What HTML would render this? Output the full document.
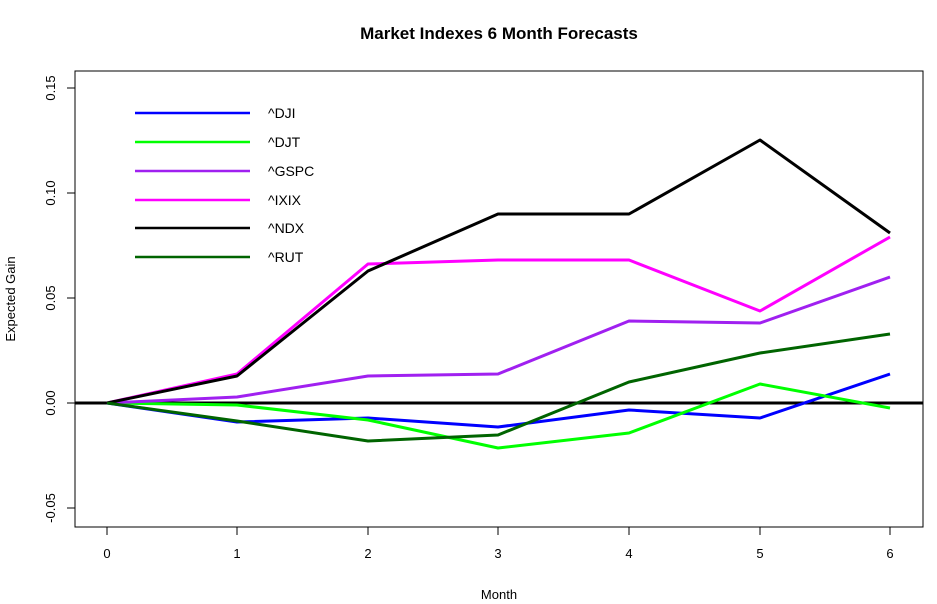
<!DOCTYPE html>
<html><head><style>body{margin:0;background:#fff}svg{display:block}text{font-family:"Liberation Sans",Arial,sans-serif}</style></head>
<body>
<svg width="937" height="604" xmlns="http://www.w3.org/2000/svg">
<rect width="937" height="604" fill="#fff"/>
<text x="499" y="39" font-size="17" font-weight="bold" text-anchor="middle">Market Indexes 6 Month Forecasts</text>
<rect x="75" y="71" width="848" height="456" fill="none" stroke="#000" stroke-width="1"/>
<g stroke="#000" stroke-width="1">
<line x1="107" y1="527" x2="890" y2="527"/>
<line x1="107" y1="527" x2="107" y2="535"/><line x1="237" y1="527" x2="237" y2="535"/><line x1="368" y1="527" x2="368" y2="535"/><line x1="498" y1="527" x2="498" y2="535"/><line x1="629" y1="527" x2="629" y2="535"/><line x1="760" y1="527" x2="760" y2="535"/><line x1="890" y1="527" x2="890" y2="535"/>
<line x1="75" y1="88" x2="75" y2="508"/>
<line x1="67" y1="88" x2="75" y2="88"/><line x1="67" y1="193" x2="75" y2="193"/><line x1="67" y1="298" x2="75" y2="298"/><line x1="67" y1="403" x2="75" y2="403"/><line x1="67" y1="508" x2="75" y2="508"/>
</g>
<g font-size="13" text-anchor="middle">
<text x="107" y="558">0</text><text x="237" y="558">1</text><text x="368" y="558">2</text><text x="498" y="558">3</text><text x="629" y="558">4</text><text x="760" y="558">5</text><text x="890" y="558">6</text>
<text x="499" y="599">Month</text>
</g>
<g font-size="13" text-anchor="middle">
<text transform="translate(55,88) rotate(-90)">0.15</text>
<text transform="translate(55,193) rotate(-90)">0.10</text>
<text transform="translate(55,298) rotate(-90)">0.05</text>
<text transform="translate(55,403) rotate(-90)">0.00</text>
<text transform="translate(55,508) rotate(-90)">-0.05</text>
<text transform="translate(15,299) rotate(-90)">Expected Gain</text>
</g>
<line x1="75" y1="403" x2="923" y2="403" stroke="#000" stroke-width="3"/>
<g fill="none" stroke-width="3" stroke-linejoin="round">
<polyline stroke="#0000ff" points="107,403 237,422 368,418 498,427 629,410 760,418 890,374"/>
<polyline stroke="#00ff00" points="107,403 237,405 368,420 498,448 629,433 760,384 890,408"/>
<polyline stroke="#a020f0" points="107,403 237,397 368,376 498,374 629,321 760,323 890,277"/>
<polyline stroke="#ff00ff" points="107,403 237,374 368,264 498,260 629,260 760,311 890,237"/>
<polyline stroke="#000000" points="107,403 237,376 368,271 498,214 629,214 760,140 890,233"/>
<polyline stroke="#006400" points="107,403 237,421 368,441 498,435 629,382 760,353 890,334"/>
</g>
<g stroke-width="2.5">
<line x1="135" y1="113" x2="250" y2="113" stroke="#0000ff"/>
<line x1="135" y1="142" x2="250" y2="142" stroke="#00ff00"/>
<line x1="135" y1="171" x2="250" y2="171" stroke="#a020f0"/>
<line x1="135" y1="200" x2="250" y2="200" stroke="#ff00ff"/>
<line x1="135" y1="228" x2="250" y2="228" stroke="#000"/>
<line x1="135" y1="257" x2="250" y2="257" stroke="#006400"/>
</g>
<g font-size="14">
<text x="268" y="118">^DJI</text><text x="268" y="147">^DJT</text><text x="268" y="176">^GSPC</text><text x="268" y="205">^IXIX</text><text x="268" y="233">^NDX</text><text x="268" y="262">^RUT</text>
</g>
</svg>
</body></html>
